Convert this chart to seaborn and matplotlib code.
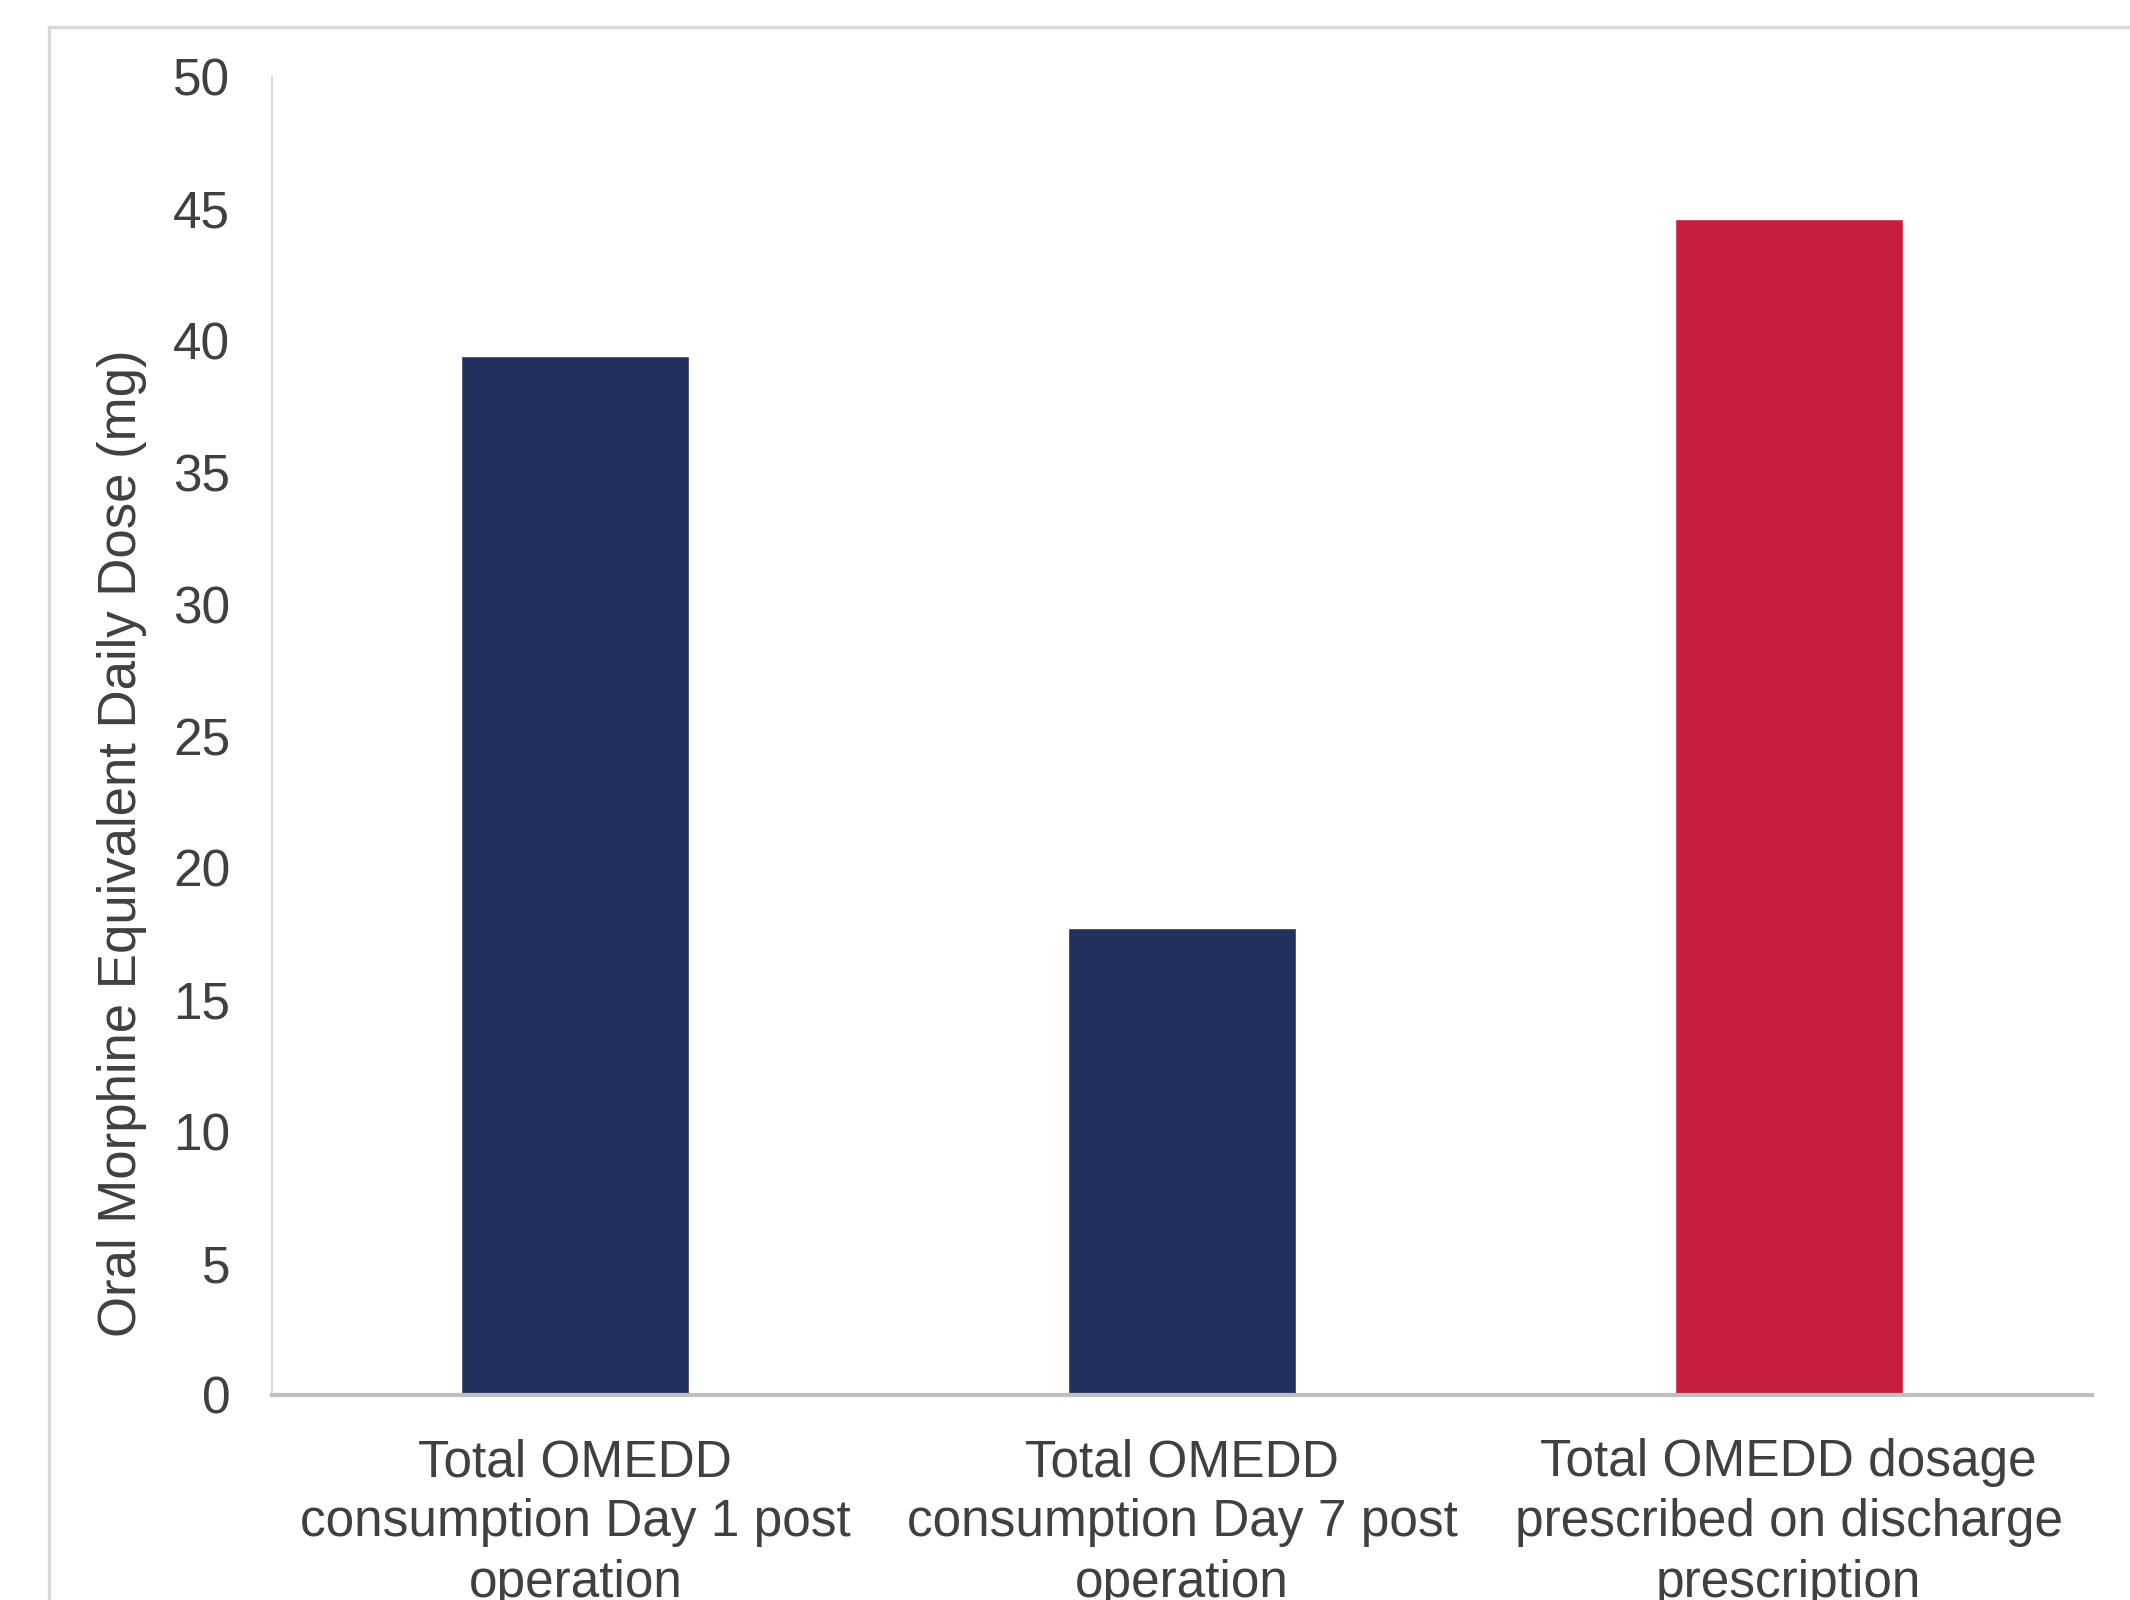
import matplotlib
matplotlib.use("Agg")
import matplotlib.pyplot as plt
import seaborn as sns
import pandas as pd
from matplotlib.patches import Rectangle

categories = [
    "Total OMEDD\nconsumption Day 1 post\noperation",
    "Total OMEDD\nconsumption Day 7 post\noperation",
    "Total OMEDD dosage\nprescribed on discharge\nprescription",
]
values = [39.4, 17.7, 44.6]
bar_colors = ["#22305e", "#22305e", "#c71e3b"]
y_ticks = [0, 5, 10, 15, 20, 25, 30, 35, 40, 45, 50]
y_label = "Oral Morphine Equivalent Daily Dose (mg)"

sns.set_theme(style="white")
plt.rcParams["font.family"] = ["Liberation Sans", "DejaVu Sans"]

df = pd.DataFrame({"cat": categories, "val": values})

fig = plt.figure(figsize=(21.3, 16), dpi=100)
ax = fig.add_axes([272 / 2130, 1 - 1395 / 1600, (2092 - 272) / 2130, (1395 - 77) / 1600])

sns.barplot(data=df, x="cat", y="val", hue="cat", palette=bar_colors,
            width=0.376, legend=False, ax=ax, saturation=1)

ax.set_xlim(-0.5, 2.5)
ax.set_ylim(0, 50)
ax.set_yticks(y_ticks)
ax.set_yticklabels([str(t) for t in y_ticks])
ax.tick_params(axis="both", length=0, colors="#404040", labelsize=37)
ax.tick_params(axis="y", pad=30)
ax.tick_params(axis="x", pad=31)
for lab in ax.get_xticklabels():
    lab.set_linespacing(1.3)
ax.set_xlabel("")
ax.set_ylabel(y_label, fontsize=38, color="#404040")
ax.yaxis.set_label_coords(-0.0687, 0.4186)

for s in ["top", "right"]:
    ax.spines[s].set_visible(False)
ax.spines["left"].set_color("#d9d9d9")
ax.spines["left"].set_linewidth(1.5)
ax.spines["bottom"].set_color("#bfbfbf")
ax.spines["bottom"].set_linewidth(3)

# outer chart frame
fig.patches.append(Rectangle((49 / 2130, -0.05), 1.2, 1 - 27 / 1600 + 0.05,
                             transform=fig.transFigure, fill=False,
                             edgecolor="#d9d9d9", linewidth=2.5, zorder=0))

fig.savefig("out.png", dpi=100)
